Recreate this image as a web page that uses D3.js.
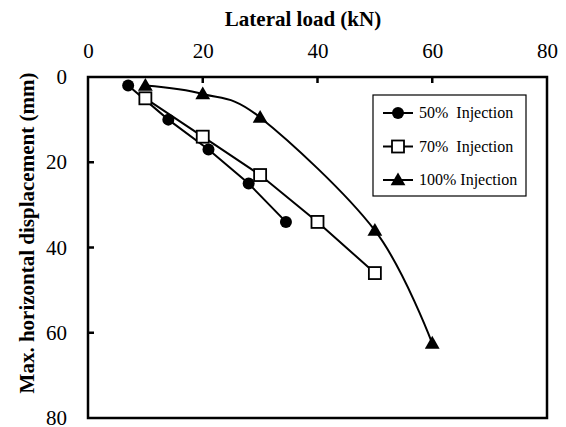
<!DOCTYPE html>
<html>
<head>
<meta charset="utf-8">
<script src="https://cdn.jsdelivr.net/npm/d3@7"></script>
<style>
  body { margin: 0; background: #fff; }
  svg text { font-family: "Liberation Serif", "Times New Roman", serif; fill: #000; }
</style>
</head>
<body>
<div id="chart"></div>
<script>
// Lateral load (kN) vs max. horizontal displacement (mm)
const load50 = [7, 14, 21, 28, 34.5];
const disp50 = [2, 10, 17, 25, 34];
const load70 = [10, 20, 30, 40, 50];
const disp70 = [5, 14, 23, 34, 46];
const load100 = [10, 20, 30, 50, 60];
const disp100 = [2, 4, 9.5, 36, 62.5];
const xTicks = [0, 20, 40, 60, 80];
const yTicks = [0, 20, 40, 60, 80];
const seriesNames = ["50%  Injection", "70%  Injection", "100% Injection"];

const width = 566, height = 427;
const margin = { top: 77, right: 19, bottom: 9, left: 88 };

const svg = d3.select("#chart")
  .append("svg")
  .attr("width", width)
  .attr("height", height);

const x = d3.scaleLinear().domain([0, 80]).range([margin.left, width - margin.right]);
const y = d3.scaleLinear().domain([0, 80]).range([margin.top, height - margin.bottom]);

// top axis labels
svg.append("g")
  .attr("transform", `translate(0,${margin.top})`)
  .call(d3.axisTop(x).tickValues(xTicks).tickSize(0).tickPadding(19))
  .call(g => g.select(".domain").remove())
  .call(g => g.attr("font-family", null).attr("font-size", null))
  .selectAll("text")
  .style("font-size", "21px");

// left axis labels
svg.append("g")
  .attr("transform", `translate(${margin.left},0)`)
  .call(d3.axisLeft(y).tickValues(yTicks).tickSize(0).tickPadding(21))
  .call(g => g.select(".domain").remove())
  .call(g => g.attr("font-family", null).attr("font-size", null))
  .selectAll("text")
  .style("font-size", "21px");

// inward ticks
const inner = [20, 40, 60];
svg.append("g").selectAll("line").data(inner).enter().append("line")
  .attr("x1", d => x(d)).attr("x2", d => x(d))
  .attr("y1", margin.top).attr("y2", margin.top + 6)
  .attr("stroke", "#000").attr("stroke-width", 2.5);
svg.append("g").selectAll("line").data(inner).enter().append("line")
  .attr("y1", d => y(d)).attr("y2", d => y(d))
  .attr("x1", margin.left).attr("x2", margin.left + 6)
  .attr("stroke", "#000").attr("stroke-width", 2.5);

// frame
svg.append("rect")
  .attr("x", x(0)).attr("y", y(0))
  .attr("width", x(80) - x(0)).attr("height", y(80) - y(0))
  .attr("fill", "none").attr("stroke", "#000").attr("stroke-width", 2.5);

// titles
svg.append("text")
  .attr("x", 303).attr("y", 26)
  .attr("text-anchor", "middle")
  .style("font-size", "21px").style("font-weight", "bold")
  .text("Lateral load (kN)");
svg.append("text")
  .attr("transform", "translate(34,233) rotate(-90)")
  .attr("text-anchor", "middle")
  .style("font-size", "21px").style("font-weight", "bold")
  .text("Max. horizontal displacement (mm)");

const straight = d3.line().x(d => x(d[0])).y(d => y(d[1]));
const smooth = d3.line().x(d => x(d[0])).y(d => y(d[1])).curve(d3.curveCatmullRom.alpha(0));

const s50 = d3.zip(load50, disp50);
const s70 = d3.zip(load70, disp70);
const s100 = d3.zip(load100, disp100);

const plot = svg.append("g");
plot.append("path").attr("d", straight(s50)).attr("fill", "none").attr("stroke", "#000").attr("stroke-width", 2);
plot.append("path").attr("d", straight(s70)).attr("fill", "none").attr("stroke", "#000").attr("stroke-width", 2);
plot.append("path").attr("d", smooth(s100)).attr("fill", "none").attr("stroke", "#000").attr("stroke-width", 2);

const tri = d3.symbol().type(d3.symbolTriangle).size(95);

function drawMarker(g, kind, cx, cy) {
  if (kind === 0) {
    g.append("circle").attr("cx", cx).attr("cy", cy).attr("r", 6).attr("fill", "#000");
  } else if (kind === 1) {
    g.append("rect").attr("x", cx - 6).attr("y", cy - 6).attr("width", 12).attr("height", 12)
      .attr("fill", "#fff").attr("stroke", "#000").attr("stroke-width", 1.8);
  } else {
    g.append("path").attr("d", tri).attr("transform", `translate(${cx},${cy + 1})`).attr("fill", "#000");
  }
}

[s50, s70, s100].forEach((s, k) => {
  s.forEach(d => drawMarker(plot, k, x(d[0]), y(d[1])));
});

// legend
const legend = svg.append("g");
legend.append("rect")
  .attr("x", 373).attr("y", 95).attr("width", 153).attr("height", 101)
  .attr("fill", "#fff").attr("stroke", "#000").attr("stroke-width", 1.2);
seriesNames.forEach((name, i) => {
  const ly = 113 + i * 33.5;
  legend.append("line").attr("x1", 383).attr("x2", 413).attr("y1", ly).attr("y2", ly)
    .attr("stroke", "#000").attr("stroke-width", 2);
  drawMarker(legend, i, 398, ly);
  legend.append("text").attr("x", 419).attr("y", ly + 5)
    .style("font-size", "16px").style("white-space", "pre")
    .text(name);
});
</script>
</body>
</html>
